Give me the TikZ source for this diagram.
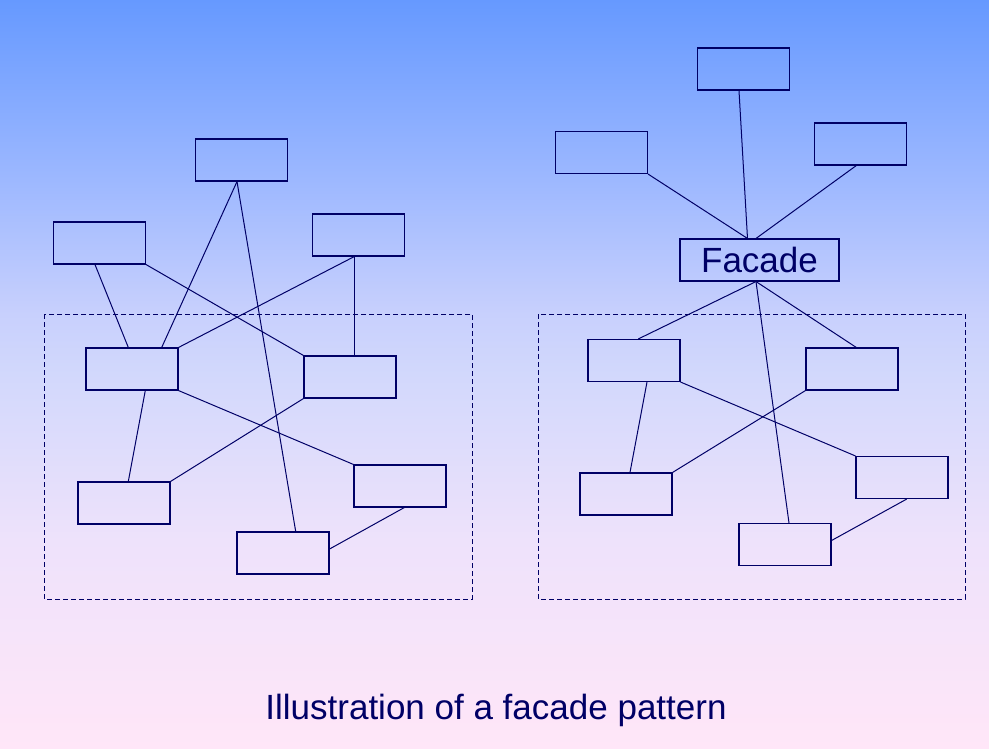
\documentclass[tikz,border=0pt]{standalone}
\usepackage{fontspec}
\setmainfont{Liberation Sans}
\usepackage{tikz}
\definecolor{navy}{HTML}{000066}
\definecolor{topblue}{HTML}{6699FF}
\definecolor{upblue}{HTML}{9DB8FF}
\definecolor{lowblue}{HTML}{C8D0FD}
\definecolor{midblue}{HTML}{D2D8FC}
\definecolor{lavlow}{HTML}{EEE2FB}
\definecolor{botpink}{HTML}{FFE6F8}
\pgfdeclareverticalshading{bgfade}{100bp}{color(0bp)=(botpink); color(25bp)=(botpink); color(38.9bp)=(lavlow); color(50bp)=(midblue); color(54bp)=(lowblue); color(63bp)=(upblue); color(75bp)=(topblue); color(100bp)=(topblue)}

\begin{document}
\begin{tikzpicture}[x=1pt,y=-1pt]
	\tikzset{blk/.style={draw=navy,line width=1.1pt,minimum width=92pt,minimum height=42pt,inner sep=0pt}}
	\tikzset{link/.style={draw=navy,line width=1pt}}
	\tikzset{group/.style={draw=navy,line width=1pt,dash pattern=on 5pt off 3pt}}
	%\tikzset{blk/.append style={fill=white}}
	\shade[shading=bgfade] (0,0) rectangle (989,748);
	% without facade
	\draw[group] (44,314) rectangle (472,599);
	\node[blk] (lt) at (241.5,160) {};
	\node[blk] (ll) at (99.5,243) {};
	\node[blk] (lr) at (358.5,235) {};
	\node[blk] (la) at (132,369) {};
	\node[blk] (lb) at (350,377) {};
	\node[blk] (lc) at (124,503) {};
	\node[blk] (ld) at (400,486) {};
	\node[blk] (le) at (283,553) {};
	\draw[link] ([xshift=-4.5pt]lt.south) -- ([xshift=29.7pt]la.north);
	\draw[link] ([xshift=-4.5pt]lt.south) -- ([xshift=12.7pt]le.north);
	\draw[link] ([xshift=-4.5pt]ll.south) -- ([xshift=-3.7pt]la.north);
	\draw[link] (ll.south east) -- (lb.north west);
	\draw[link] ([xshift=-4.2pt]lr.south) -- (la.north east);
	\draw[link] ([xshift=-4.2pt]lr.south) -- ([xshift=4.3pt]lb.north);
	\draw[link] ([xshift=13.3pt]la.south) -- ([xshift=4.3pt]lc.north);
	\draw[link] (la.south east) -- (ld.north west);
	\draw[link] (lb.south west) -- (lc.north east);
	\draw[link] ([xshift=4.3pt]ld.south) -- ([yshift=4pt]le.east);
	% with facade
	\draw[group] (538,314) rectangle (965,599);
	\node[blk] (rt) at (743.5,69) {};
	\node[blk] (rl) at (601.5,152.5) {};
	\node[blk] (rr) at (860.5,144) {};
	\node[blk,minimum width=159pt,font=\fontsize{35}{42}\selectfont,text=navy] (fac) at (759.5,260) {Facade};
	\node[blk] (ra) at (634,360.5) {};
	\node[blk] (rb) at (852,369) {};
	\node[blk] (rc) at (626,494) {};
	\node[blk] (rd) at (902,477.5) {};
	\node[blk] (re) at (785,544.5) {};
	\draw[link] ([xshift=-4.5pt]rt.south) -- ([xshift=-12pt]fac.north);
	\draw[link] (rl.south east) -- ([xshift=-12pt]fac.north);
	\draw[link] ([xshift=-4.2pt]rr.south) -- ([xshift=-3.5pt]fac.north);
	\draw[link] ([xshift=-3.5pt]fac.south) -- ([xshift=4.3pt]ra.north);
	\draw[link] ([xshift=-3.5pt]fac.south) -- ([xshift=4.3pt]rb.north);
	\draw[link] ([xshift=-3.5pt]fac.south) -- ([xshift=4pt]re.north);
	\draw[link] ([xshift=13pt]ra.south) -- ([xshift=4pt]rc.north);
	\draw[link] (ra.south east) -- (rd.north west);
	\draw[link] (rb.south west) -- (rc.north east);
	\draw[link] ([xshift=4.7pt]rd.south) -- ([yshift=4pt]re.east);
	\node[anchor=base,text=navy,font=\fontsize{35}{42}\selectfont] (cap) at (496,719) {Illustration of a facade pattern};
\end{tikzpicture}
\end{document}
